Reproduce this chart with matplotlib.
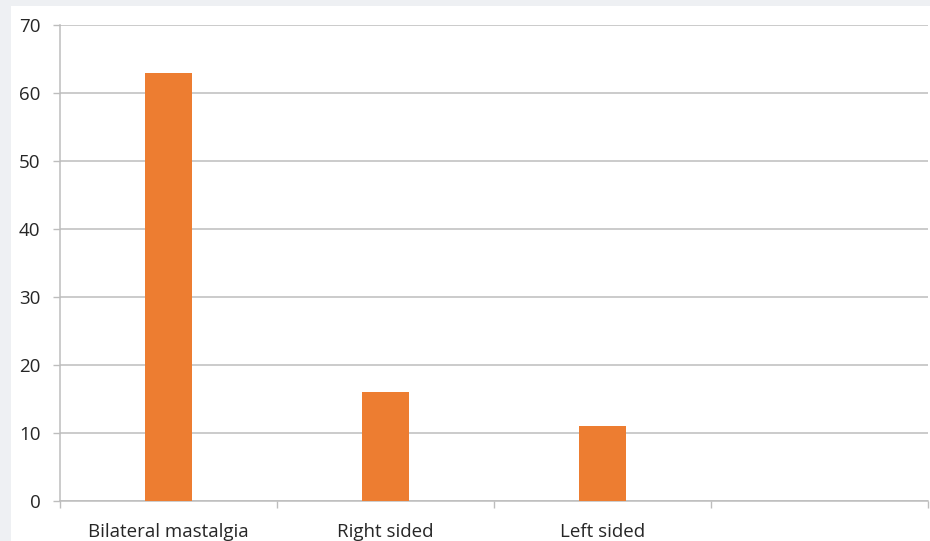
import matplotlib.pyplot as plt
from matplotlib.patches import Rectangle

# Mastalgia side distribution
categories = ["Bilateral mastalgia", "Right sided", "Left sided", ""]
values = [63, 16, 11]

bar_color = "#ED7D31"
grid_color = "#bdbdbd"

fig = plt.figure(figsize=(9.3, 5.41), dpi=100)
fig.patch.set_facecolor("#eef0f3")
# white chart panel inside the gray frame
fig.patches.append(Rectangle((11 / 930, 0), 1, 1 - 6 / 541,
                             transform=fig.transFigure, facecolor="white",
                             edgecolor="none", zorder=-10))

ax = fig.add_axes([60 / 930, 40 / 541, 868 / 930, 476 / 541])
ax.set_facecolor("none")

x = list(range(len(categories)))
ax.bar(x[:len(values)], values, width=0.22, color=bar_color, zorder=3)

ax.set_xlim(-0.5, len(categories) - 0.5)
ax.set_ylim(0, 70)
ax.set_yticks(range(0, 71, 10))

ax.set_xticks(x)
ax.set_xticklabels(categories)
ax.set_xticks([i - 0.5 for i in range(len(categories) + 1)], minor=True)
ax.tick_params(axis="x", which="major", length=0, pad=16, labelsize=13.5,
               labelcolor="#262626")
ax.tick_params(axis="x", which="minor", length=5, width=1, color=grid_color)
ax.tick_params(axis="y", length=5, width=1, color=grid_color, pad=9,
               labelsize=13.5, labelcolor="#262626")

for lbl in ax.get_xticklabels() + ax.get_yticklabels():
    lbl.set_fontfamily("Open Sans")

ax.yaxis.grid(True, color=grid_color, linewidth=1.1, zorder=0)
ax.set_axisbelow(True)
for side in ["top", "right"]:
    ax.spines[side].set_visible(False)
for side in ["left", "bottom"]:
    ax.spines[side].set_color(grid_color)
    ax.spines[side].set_linewidth(1.1)

plt.savefig("out.png", dpi=100, facecolor=fig.get_facecolor())
